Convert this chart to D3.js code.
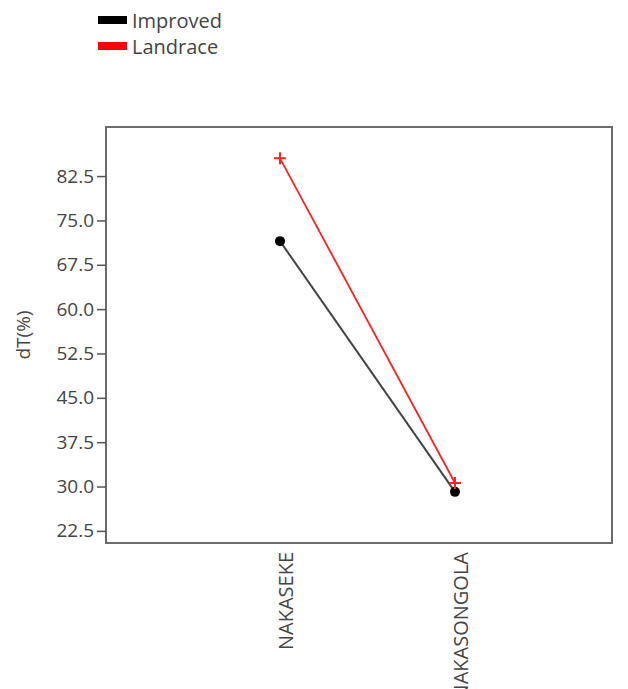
<!DOCTYPE html>
<html><head><meta charset="utf-8">
<script src="https://cdn.jsdelivr.net/npm/d3@7"></script>
<style>body{margin:0;background:#fff}svg{display:block}</style>
</head><body>
<svg id="c" width="628" height="689"></svg>
<script>
const categories = ["NAKASEKE", "NAKASONGOLA"];
const improved = [71.5, 29.1];
const landrace = [85.5, 30.6];
const yTicks = [22.5, 30.0, 37.5, 45.0, 52.5, 60.0, 67.5, 75.0, 82.5];
const seriesNames = ["Improved", "Landrace"];
const seriesColors = ["#000000", "#ff0000"];

const svg = d3.select("#c");
const L = 106, R = 612, T = 127, B = 543;
const font = "'Open Sans', 'DejaVu Sans', sans-serif";

const y = d3.scaleLinear().domain([20.45, 90.8]).range([B, T]);
const x = d3.scalePoint().domain(categories).range([280, 455]);

// box
svg.append("rect").attr("x", L).attr("y", T).attr("width", R - L).attr("height", B - T)
  .attr("fill", "none").attr("stroke", "#6b6b6b").attr("stroke-width", 2);

// y axis
const ya = svg.append("g").attr("transform", `translate(${L},0)`)
  .call(d3.axisLeft(y).tickValues(yTicks).tickFormat(d3.format(".1f")).tickSize(9).tickSizeOuter(0));
ya.select(".domain").remove();
ya.selectAll(".tick line").attr("stroke", "#555").attr("stroke-width", 1.5);
ya.selectAll(".tick text").attr("font-family", font).attr("font-size", 19).attr("fill", "#444").attr("x", -12);

svg.append("text").attr("transform", `translate(23,${(T + B) / 2}) rotate(-90)`)
  .attr("text-anchor", "middle").attr("dy", "0.35em").attr("font-family", font).attr("font-size", 19).attr("fill", "#444")
  .text("dT(%)");

// x axis labels
const xa = svg.append("g").attr("transform", `translate(0,${B})`)
  .call(d3.axisBottom(x).tickSize(0).tickSizeOuter(0));
xa.select(".domain").remove();
xa.selectAll(".tick text").attr("font-family", font).attr("font-size", 20).attr("fill", "#444")
  .attr("transform", "rotate(-90)").attr("text-anchor", "end").attr("x", -9).attr("y", 0).attr("dy", "0.6em")
  .attr("dx", 0);

// lines
const line = d3.line().x((d, i) => x(categories[i])).y(d => y(d));
svg.append("path").datum(improved).attr("d", line).attr("fill", "none")
  .attr("stroke", "#444").attr("stroke-width", 2);
svg.append("path").datum(landrace).attr("d", line).attr("fill", "none")
  .attr("stroke", "#ff2020").attr("stroke-width", 1.8);

// markers
svg.selectAll(".imp").data(improved).enter().append("circle")
  .attr("cx", (d, i) => x(categories[i])).attr("cy", d => y(d)).attr("r", 5).attr("fill", "#000");
svg.selectAll(".lan").data(landrace).enter().append("path")
  .attr("d", "M-6,0H6M0,-6V6")
  .attr("transform", (d, i) => `translate(${x(categories[i])},${y(d)})`)
  .attr("stroke", "#ff2020").attr("stroke-width", 2).attr("fill", "none");

// legend
const lg = svg.append("g");
seriesNames.forEach((n, i) => {
  lg.append("rect").attr("x", 98).attr("y", 16 + i * 26).attr("width", 29).attr("height", 8)
    .attr("fill", seriesColors[i]);
  lg.append("text").attr("x", 132).attr("y", 28 + i * 26).attr("font-family", font)
    .attr("font-size", 20).attr("fill", "#444").text(n);
});
</script>
</body></html>
